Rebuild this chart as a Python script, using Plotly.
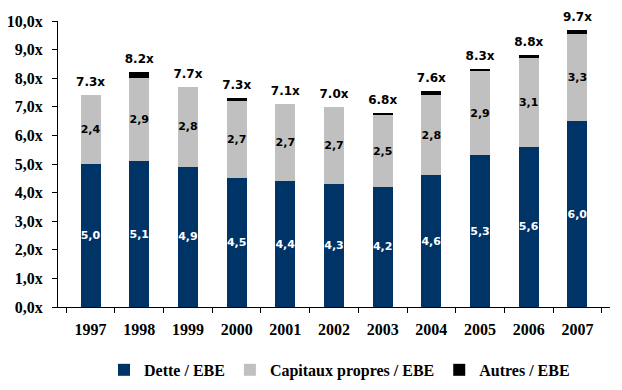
import plotly.graph_objects as go

years = ["1997", "1998", "1999", "2000", "2001", "2002", "2003", "2004", "2005", "2006", "2007"]
dette = [5.0, 5.1, 4.9, 4.5, 4.4, 4.3, 4.2, 4.6, 5.3, 5.6, 6.5]
capitaux = [2.4, 2.9, 2.8, 2.7, 2.7, 2.7, 2.5, 2.8, 2.95, 3.1, 3.05]
autres = [0.0, 0.22, 0.0, 0.1, 0.0, 0.0, 0.07, 0.15, 0.08, 0.11, 0.14]
dette_lbl = ["5,0", "5,1", "4,9", "4,5", "4,4", "4,3", "4,2", "4,6", "5,3", "5,6", "6,0"]
capitaux_lbl = ["2,4", "2,9", "2,8", "2,7", "2,7", "2,7", "2,5", "2,8", "2,9", "3,1", "3,3"]
total_lbl = ["7.3x", "8.2x", "7.7x", "7.3x", "7.1x", "7.0x", "6.8x", "7.6x", "8.3x", "8.8x", "9.7x"]
ytick_vals = [0, 1, 2, 3, 4, 5, 6, 7, 8, 9, 10]
ytick_text = ["0,0x", "1,0x", "2,0x", "3,0x", "4,0x", "5,0x", "6,0x", "7,0x", "8,0x", "9,0x", "10,0x"]

serif = dict(family="Liberation Serif, Times New Roman, serif", size=16, color="black", weight="bold")
sans_in = dict(family="DejaVu Sans, Verdana, sans-serif", size=11, weight="bold")

fig = go.Figure()
fig.add_trace(go.Bar(
    x=years, y=dette, name="Dette / EBE", marker=dict(color="#003366", line=dict(width=0)),
    text=dette_lbl, textposition="inside", insidetextanchor="middle", constraintext="none",
    textfont=dict(**sans_in, color="white"), textangle=0,
))
fig.add_trace(go.Bar(
    x=years, y=capitaux, name="Capitaux propres / EBE", marker=dict(color="#C0C0C0", line=dict(width=0)),
    text=capitaux_lbl, textposition="inside", insidetextanchor="middle", constraintext="none",
    textfont=dict(**sans_in, color="black"), textangle=0,
))
fig.add_trace(go.Bar(
    x=years, y=autres, name="Autres / EBE", marker=dict(color="#000000", line=dict(width=0)),
    textposition="none",
))

totals = [d + c + a for d, c, a in zip(dette, capitaux, autres)]
fig.add_trace(go.Scatter(
    x=years, y=totals, mode="markers+text", text=total_lbl, textposition="top center",
    marker=dict(size=8, color="rgba(0,0,0,0)"),
    textfont=dict(family="DejaVu Sans, Verdana, sans-serif", size=12, color="black", weight="bold"),
    showlegend=False, cliponaxis=False, hoverinfo="skip",
))

fig.update_layout(
    barmode="stack",
    bargap=0.59,
    width=622, height=390,
    margin=dict(l=58, r=12, t=21, b=83, autoexpand=False),
    paper_bgcolor="white", plot_bgcolor="white",
    showlegend=True,
    legend=dict(orientation="h", x=0.51, xanchor="center", y=-0.22, yanchor="middle",
                font=serif, traceorder="normal", itemwidth=30),
    xaxis=dict(type="category", showline=True, linecolor="black", linewidth=1,
               ticks="outside", tickson="boundaries", ticklen=5, tickcolor="black",
               tickfont=serif, showgrid=False, ticklabelstandoff=8, tickangle=0,
               automargin=False),
    yaxis=dict(range=[0, 10], tickvals=ytick_vals, ticktext=ytick_text, showline=True,
               linecolor="black", linewidth=1, ticks="outside", ticklen=5, tickcolor="black",
               tickfont=serif, showgrid=False, zeroline=False, ticklabelstandoff=6,
               automargin=False),
)

fig.write_html("out.html", config={"displayModeBar": False},
               post_script="document.body.style.margin='0';")
